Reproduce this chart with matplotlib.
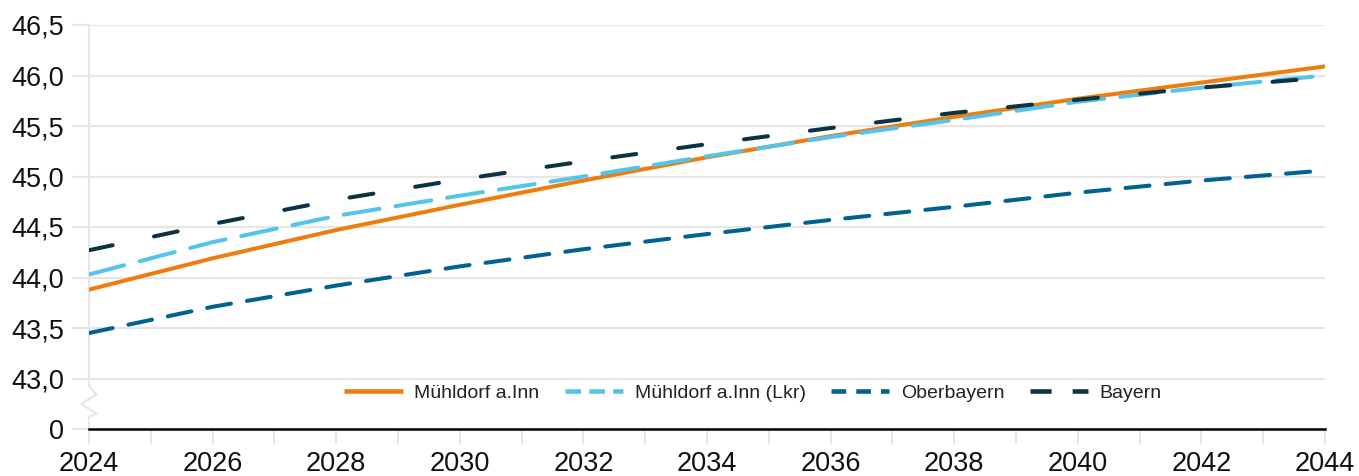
import matplotlib
matplotlib.use("Agg")
import matplotlib.pyplot as plt
from matplotlib.lines import Line2D
import matplotlib.transforms as mtrans

years = [2024, 2026, 2028, 2030, 2032, 2034, 2036, 2038, 2040, 2042, 2044]
muehldorf_stadt = [43.88, 44.19, 44.47, 44.72, 44.96, 45.19, 45.40, 45.59, 45.77, 45.93, 46.09]
muehldorf_lkr = [44.03, 44.35, 44.61, 44.81, 45.00, 45.20, 45.39, 45.56, 45.74, 45.88, 46.00]
oberbayern = [43.45, 43.71, 43.92, 44.11, 44.28, 44.43, 44.57, 44.70, 44.84, 44.96, 45.06]
bayern = [44.27, 44.53, 44.77, 44.97, 45.15, 45.32, 45.48, 45.63, 45.76, 45.88, 45.98]

series_names = ["Mühldorf a.Inn", "Mühldorf a.Inn (Lkr)", "Oberbayern", "Bayern"]
ytick_vals = [42.5, 43.0, 43.5, 44.0, 44.5, 45.0, 45.5, 46.0, 46.5]
ytick_labels = ["0", "43,0", "43,5", "44,0", "44,5", "45,0", "45,5", "46,0", "46,5"]
xtick_major = list(range(2024, 2045, 2))
xtick_minor = list(range(2025, 2044, 2))

plt.rcParams['font.family'] = ['Liberation Sans', 'DejaVu Sans']

W, H = 1359, 476
fig = plt.figure(figsize=(W / 100, H / 100), dpi=100)
ax = fig.add_axes([89 / W, 1 - 429 / H, (1325 - 89) / W, (429 - 25) / H])

c_orange = "#EE7D0E"
c_light = "#55C3EA"
c_mid = "#00628F"
c_dark = "#0B3344"
grid_c = "#E6E6E6"

lw = 2.9
ax.plot(years, muehldorf_stadt, color=c_orange, lw=lw, solid_capstyle='round', zorder=3)
ax.plot(years, muehldorf_lkr, color=c_light, lw=lw, dashes=(9, 4), dash_capstyle='round', zorder=4)
ax.plot(years, oberbayern, color=c_mid, lw=lw, dashes=(6, 4), dash_capstyle='round', zorder=4)
ax.plot(years, bayern, color=c_dark, lw=lw, dashes=(6, 10.5), dash_capstyle='round', zorder=5)

ax.set_xlim(2024, 2044)
ax.set_ylim(42.5, 46.5)

ax.set_yticks(ytick_vals)
ax.set_yticklabels(ytick_labels)
ax.set_xticks(xtick_major)
ax.set_xticklabels([str(y) for y in xtick_major])
ax.set_xticks(xtick_minor, minor=True)

ax.yaxis.grid(True, color=grid_c, lw=1.6, zorder=0)
ax.set_axisbelow(True)

for s in ['top', 'right']:
    ax.spines[s].set_visible(False)
ax.spines['left'].set_color(grid_c)
ax.spines['left'].set_linewidth(1.6)
ax.spines['bottom'].set_color('black')
ax.spines['bottom'].set_linewidth(1.8)
ax.spines['bottom'].set_zorder(6)

ax.tick_params(axis='y', length=12, width=1.6, color=grid_c, pad=6, labelsize=19.5, labelcolor='#111111')
ax.tick_params(axis='x', which='both', length=11, width=1.4, color=grid_c)
ax.tick_params(axis='x', which='major', pad=5, labelsize=19.5, labelcolor='#111111')

# axis break zigzag on left spine between 0 and 43,0
trans = mtrans.blended_transform_factory(ax.transAxes, ax.transData)
dx = 7.5 / (1325 - 89)
zz_x = [0, 0, dx, -dx, dx, 0, 0]
zz_y = [42.95, 42.93, 42.84, 42.75, 42.65, 42.62, 42.60]
ax.plot([0, 0], [42.60, 42.95], transform=trans, color='white', lw=3, clip_on=False, zorder=6)
ax.plot(zz_x, zz_y, transform=trans, color=grid_c, lw=1.6, clip_on=False, zorder=7)

handles = [
    Line2D([], [], color=c_orange, lw=3.3, solid_capstyle='butt'),
    Line2D([], [], color=c_light, lw=3.3, dashes=(3.4, 1.8), dash_capstyle='butt'),
    Line2D([], [], color=c_mid, lw=3.3, dashes=(3.2, 2.2), dash_capstyle='butt'),
    Line2D([], [], color=c_dark, lw=3.3, dashes=(4.6, 4.6), dash_capstyle='butt'),
]
fig.legend(handles, series_names, loc='center', bbox_to_anchor=(753 / W, 1 - 393 / H),
           ncol=4, frameon=False, fontsize=14.0, handlelength=3.0, handletextpad=0.6,
           columnspacing=1.3, borderpad=0, labelcolor='#222222')

fig.savefig("out.png", dpi=100)
